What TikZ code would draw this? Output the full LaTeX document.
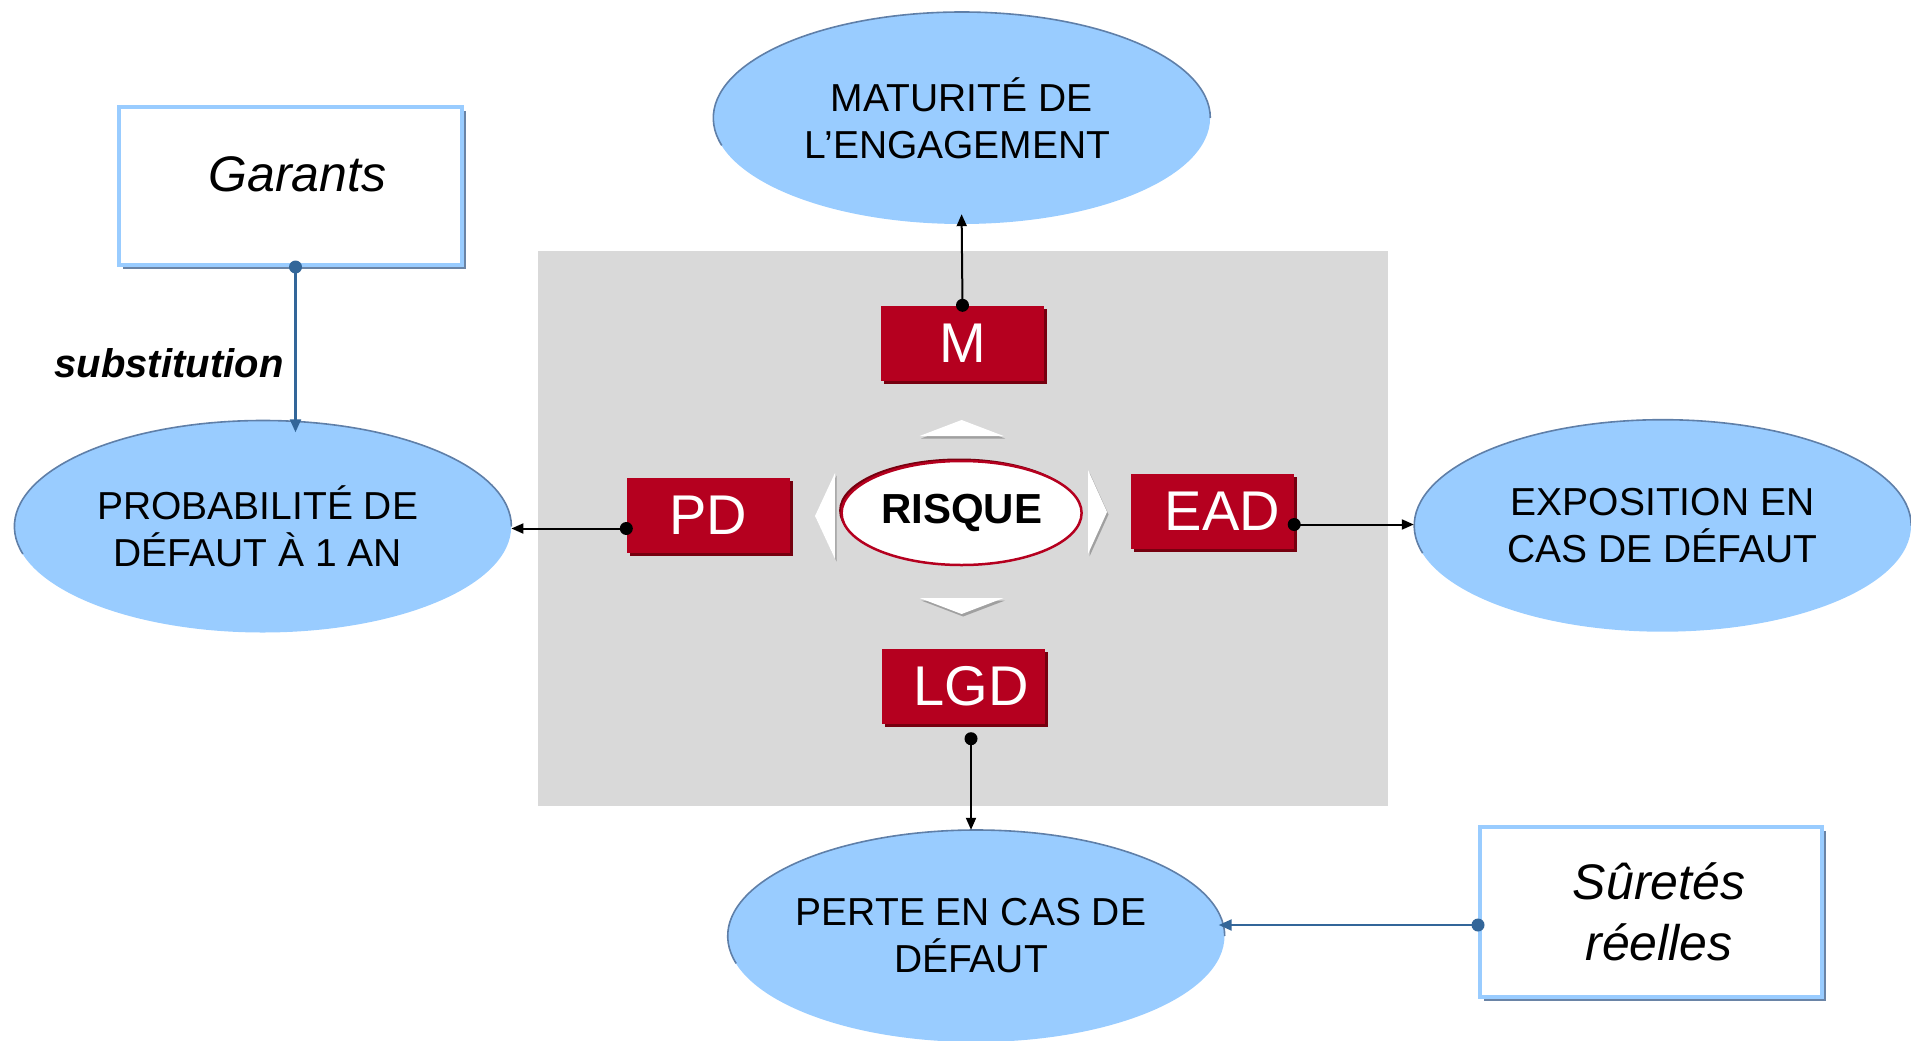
\documentclass[tikz,border=0pt]{standalone}
\usepackage{fontspec}
\setmainfont{Liberation Sans}
\usetikzlibrary{shapes.geometric,arrows.meta,calc,shadows}
\definecolor{skyfill}{HTML}{99CCFF}
\definecolor{skyline}{HTML}{5F7FA8}
\definecolor{boxline}{HTML}{99CCFF}
\definecolor{boxshade}{HTML}{6A84A6}
\definecolor{riskred}{HTML}{B5001F}
\definecolor{riskshade}{HTML}{76000F}
\definecolor{panel}{HTML}{D9D9D9}
\definecolor{linkblue}{HTML}{336699}
\definecolor{chevshade}{HTML}{A0A0A0}
\tikzset{
  factor/.style={ellipse, fill=skyfill, minimum width=497pt, minimum height=212pt,
    inner sep=0pt, align=center, font=\fontsize{39}{47}\selectfont},
  keybox/.style={rectangle, fill=riskred, minimum width=163pt, minimum height=75pt,
    inner sep=0pt, text=white, font=\fontsize{56}{60}\selectfont,
    drop shadow={shadow xshift=3pt,shadow yshift=-3pt,fill=riskshade,opacity=1}},
  sourcebox/.style={rectangle, draw=boxline, line width=4pt, fill=white,
    drop shadow={shadow xshift=3.5pt,shadow yshift=-3.5pt,fill=boxshade,opacity=1}},
  link/.style={line width=2pt, -{Triangle[length=12pt,width=10pt]}},
  bluelink/.style={line width=2.2pt, draw=linkblue, -{Triangle[length=13pt,width=11pt]}},
  rim/.style={draw=skyline, line width=1.6pt},
  chev/.style={fill=white},
  chevback/.style={fill=chevshade},
}
\begin{document}
\begin{tikzpicture}[x=1pt,y=-1pt]
\useasboundingbox (0,0) rectangle (1911,1041);

% central grey panel
\fill[panel] (537.5,251) rectangle (1388,806);

% outer factors
\node[factor] (mat) at (961.6,118) {MATURITÉ DE\\\hspace*{-8pt}L’ENGAGEMENT};
\node[factor] (pdf) at (262.7,526.5) {\hspace*{-10pt}PROBABILITÉ DE\\\hspace*{-10pt}DÉFAUT À 1 AN};
\node[factor] (exp) at (1662.5,525.7) {EXPOSITION EN\\CAS DE DÉFAUT};
\node[factor] (lgf) at (976,936) {\hspace*{-10pt}PERTE EN CAS DE\\\hspace*{-10pt}DÉFAUT};

% darker rim on the upper part of each ellipse
\foreach \e in {mat,pdf,exp,lgf}{
  \draw[rim] (\e.east) arc[start angle=0,end angle=-195,x radius=248.5,y radius=106];
}

% sources of mitigation
\node[sourcebox, minimum width=343pt, minimum height=158pt] (gar) at (290.5,186) {};
\node[font=\fontsize{50}{58}\itshape] at ($(gar.center)+(7,-12)$) {Garants};
\node[sourcebox, minimum width=342pt, minimum height=170pt, align=center,
      font=\fontsize{50}{61}\itshape] (sur) at (1651,912) {\hspace*{16pt}Sûretés\\\hspace*{16pt}réelles};
\node[font=\fontsize{40}{44}\bfseries\itshape] (subst) at (169,363) {substitution};

% chevrons around the central ellipse
\begin{scope}[shift={(1.5,2.5)}]
  \fill[chevback] (961.6,420) -- (1003.6,436) -- (919.6,436) -- cycle;
  \fill[chevback] (961.6,614) -- (1003.6,598) -- (919.6,598) -- cycle;
  \fill[chevback] (815,516) -- (835,473) -- (835,559) -- cycle;
  \fill[chevback] (1107,512) -- (1088,470) -- (1088,554) -- cycle;
\end{scope}
\fill[chev] (961.6,420) -- (1003.6,436) -- (919.6,436) -- cycle;
\fill[chev] (961.6,614) -- (1003.6,598) -- (919.6,598) -- cycle;
\fill[chev] (815,516) -- (835,473) -- (835,559) -- cycle;
\fill[chev] (1107,512) -- (1088,470) -- (1088,554) -- cycle;

% central ellipse
\node[ellipse, draw=riskred, line width=2.5pt, fill=white, minimum width=240pt,
      minimum height=104pt, inner sep=0pt, font=\fontsize{42}{46}\bfseries,
      drop shadow={shadow xshift=-2.5pt,shadow yshift=2.5pt,fill=riskshade,opacity=1}]
      (risk) at (961.6,513) {\raisebox{-3pt}{RISQUE}};

% risk parameters
\node[keybox] (m) at (962.5,343) {M};
\node[keybox] (pd) at (708,515.5) {PD};
\node[keybox] (ead) at (1212.5,511.5) {\hspace*{20pt}EAD};
\node[keybox] (lgd) at (963,686) {\hspace*{16pt}LGD};

% parameter links
\draw[link] (m.north) -- ($(mat.south)+(0,-10)$);
\fill (m.north) circle[radius=6.5];
\coordinate (pdstart) at ($(pd.west)+(0,13)$);
\draw[link] (pdstart) -- (pdstart -| pdf.east);
\fill (pdstart) circle[radius=6.5];
\coordinate (eadstart) at ($(ead.east)+(0,13)$);
\draw[link] (eadstart) -- (eadstart -| exp.west);
\fill (eadstart) circle[radius=6.5];
\coordinate (lgdstart) at ($(lgd.south)+(8,15)$);
\draw[link] (lgdstart) -- (lgdstart |- lgf.north);
\fill (lgdstart) circle[radius=6.5];

% mitigation links
\coordinate (garstart) at ($(gar.south)+(5,0)$);
\draw[bluelink] (garstart) -- ($(garstart |- pdf.north)+(0,12)$);
\fill[linkblue] (garstart) circle[radius=6.5];
\coordinate (surstart) at ($(sur.west)+(0,13)$);
\draw[bluelink] (surstart) -- ($(surstart -| lgf.east)+(-6,0)$);
\fill[linkblue] (surstart) circle[radius=6.5];
\end{tikzpicture}
\end{document}
